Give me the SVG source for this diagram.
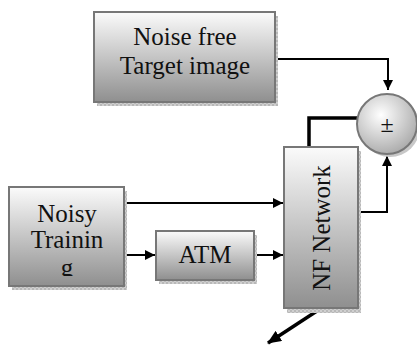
<svg xmlns="http://www.w3.org/2000/svg" width="417" height="345" viewBox="0 0 417 345">
<defs>
<linearGradient id="g" x1="0" y1="0" x2="0" y2="1">
<stop offset="0" stop-color="#fbfbfb"/>
<stop offset="1" stop-color="#8f8f8f"/>
</linearGradient>
<radialGradient id="rg" cx="0.4" cy="0.35" r="0.7">
<stop offset="0" stop-color="#ffffff"/>
<stop offset="1" stop-color="#a8a8a8"/>
</radialGradient>
<pattern id="sh" width="4" height="4" patternUnits="userSpaceOnUse">
<rect width="4" height="4" fill="#cfcfcf"/>
<rect width="2" height="2" fill="#b8b8b8"/>
<rect x="2" y="2" width="2" height="2" fill="#b8b8b8"/>
</pattern>
<marker id="ah" markerWidth="10" markerHeight="10" viewBox="0 0 10 10" refX="10" refY="5" orient="auto" markerUnits="userSpaceOnUse">
<path d="M0,0 L10,5 L0,10 Z" fill="#000"/>
</marker>
<marker id="ah2" markerWidth="14" markerHeight="12" viewBox="0 0 14 12" refX="13" refY="6" orient="auto" markerUnits="userSpaceOnUse">
<path d="M0,0 L14,6 L0,12 Z" fill="#000"/>
</marker>
<clipPath id="clipN"><rect x="9" y="187" width="115" height="89"/></clipPath>
</defs>
<style>
.box{fill:url(#g);stroke:#777;stroke-width:2}
.sh{fill:url(#sh)}
.t{font-family:'Liberation Serif','Times New Roman',serif;font-size:25px;fill:#111;text-anchor:middle}
.c{fill:none;stroke:#000;stroke-width:2}
.ct{fill:none;stroke:#000;stroke-width:3.5}
</style>
<g id="connectors">
<polyline class="c" points="276,59 388,59 388,90" marker-end="url(#ah)"/>
<polyline class="ct" points="309,146 309,118 357,118"/>
<polyline class="c" points="358,212 387,212 387,156" marker-end="url(#ah)"/>
<line class="c" x1="124" y1="203" x2="283" y2="203" marker-end="url(#ah)"/>
<line class="c" x1="124" y1="255" x2="155" y2="255" marker-end="url(#ah)"/>
<line class="c" x1="254" y1="255" x2="283" y2="255" marker-end="url(#ah)"/>
<line class="ct" x1="320" y1="309" x2="268" y2="343" marker-end="url(#ah2)"/>
</g>
<g id="noise-free">
<rect class="sh" x="97" y="16" width="181" height="90"/>
<rect class="box" x="94" y="12" width="181" height="90"/>
<text class="t" x="185" y="45">Noise free</text>
<text class="t" x="185" y="74">Target image</text>
</g>
<g id="sum">
<circle cx="390" cy="127" r="30" fill="#c8c8c8"/>
<circle cx="387" cy="124" r="30" fill="url(#rg)" stroke="#777" stroke-width="2"/>
<text class="t" x="387" y="132" style="font-size:24px">±</text>
</g>
<g id="nf-network">
<rect class="sh" x="287" y="151" width="74" height="162"/>
<rect class="box" x="284" y="147" width="74" height="161"/>
<text class="t" transform="translate(330,228) rotate(-90)">NF Network</text>
</g>
<g id="noisy">
<rect class="sh" x="12" y="191" width="115" height="99"/>
<rect class="box" x="9" y="187" width="115" height="99"/>
<text class="t" x="67" y="222">Noisy</text>
<text class="t" x="67" y="248">Trainin</text>
<text class="t" x="67" y="276" clip-path="url(#clipN)">g</text>
</g>
<g id="atm">
<rect class="sh" x="159" y="235" width="98" height="49"/>
<rect class="box" x="156" y="231" width="98" height="49"/>
<text class="t" x="205" y="263">ATM</text>
</g>
</svg>
